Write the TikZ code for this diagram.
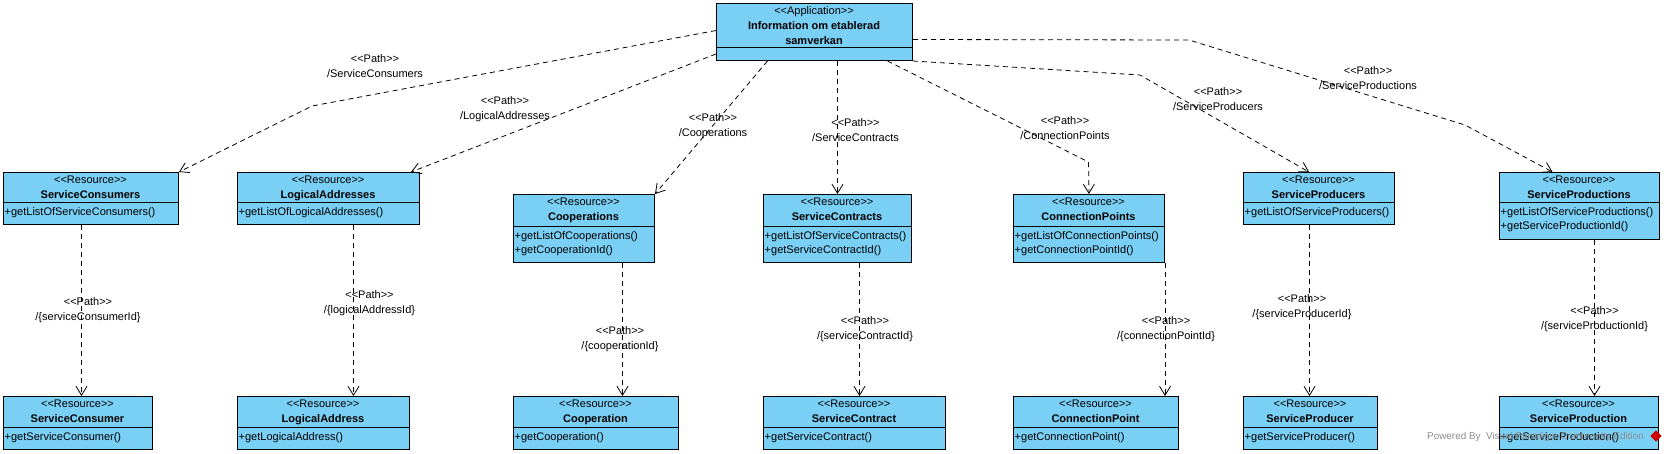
\documentclass[tikz,border=0pt]{standalone}
\usepackage{fontspec}
\setmainfont{Liberation Sans}
\usetikzlibrary{arrows.meta,calc}
\definecolor{clsfill}{RGB}{122,207,245}
\definecolor{wmgray}{RGB}{140,140,140}
\newcommand\stereo[1]{<\kern0pt<#1>\kern0pt>}
\tikzset{
  clsbox/.style={draw=black, fill=clsfill, line width=1pt, inner sep=0pt, anchor=north west},
  sepline/.style={draw=black, line width=1pt},
  txt/.style={inner sep=0pt, font=\fontsize{11}{14}\selectfont},
  ttl/.style={inner sep=0pt, font=\fontsize{11}{14}\selectfont\bfseries},
  mth/.style={inner sep=0pt, align=left, anchor=north west, font=\fontsize{11}{14}\selectfont},
  lbl/.style={inner sep=0pt, align=center, font=\fontsize{11}{15}\selectfont},
  dep/.style={draw=black, line width=0.8pt, dash pattern=on 5pt off 4pt,
    -{Straight Barb[length=9pt,width=11pt,line width=0.8pt]}},
}
% name x1 y1 x2 y2 ysep title methods
\newcommand\rescls[8]{%
  \node[clsbox, minimum width={(#4-#2)*1pt}, minimum height={(#5-#3)*1pt}] (#1) at (#2,#3) {};
  \draw[sepline] (#2,#6) -- (#4,#6);
  \node[txt, anchor=base] (#1-st) at ({(#2+#4)/2},{#3+11.5}) {\stereo{Resource}};
  \node[ttl, anchor=base] (#1-ti) at ({(#2+#4)/2},{#3+26}) {#7};
  \node[mth] (#1-me) at ({#2+1.5},{#6+5.5}) {#8};
}
\begin{document}
\begin{tikzpicture}[x=1pt,y=-1pt]
\useasboundingbox (0,0) rectangle (1667,453);
\fill[white] (0,0) rectangle (1667,453);

% application
\node[clsbox, minimum width=196pt, minimum height=57pt] (app) at (716,3) {};
\draw[sepline] (716,47) -- (912,47);
\node[txt, anchor=base] (app-st) at (814,14) {\stereo{Application}};
\node[ttl, anchor=base] (app-t1) at (814,29) {Information om etablerad};
\node[ttl, anchor=base] (app-t2) at (814,44) {samverkan};

% top row
\rescls{sc}{3}{172}{178}{224}{202}{ServiceConsumers}{+getListOfServiceConsumers()}
\rescls{la}{237}{172}{419}{224}{202}{LogicalAddresses}{+getListOfLogicalAddresses()}
\rescls{co}{513}{194}{654}{262}{226}{Cooperations}{+getListOfCooperations()\\+getCooperationId()}
\rescls{sct}{763}{194}{911}{262}{226}{ServiceContracts}{+getListOfServiceContracts()\\+getServiceContractId()}
\rescls{cp}{1013}{194}{1164}{262}{226}{ConnectionPoints}{+getListOfConnectionPoints()\\+getConnectionPointId()}
\rescls{spr}{1243}{172}{1394}{224}{202}{ServiceProducers}{+getListOfServiceProducers()}
\rescls{spn}{1499}{172}{1659}{239}{202}{ServiceProductions}{+getListOfServiceProductions()\\+getServiceProductionId()}

% bottom row
\rescls{scb}{3}{396}{152}{449}{427}{ServiceConsumer}{+getServiceConsumer()}
\rescls{lab}{237}{396}{409}{449}{427}{LogicalAddress}{+getLogicalAddress()}
\rescls{cob}{513}{396}{678}{449}{427}{Cooperation}{+getCooperation()}
\rescls{sctb}{763}{396}{945}{449}{427}{ServiceContract}{+getServiceContract()}
\rescls{cpb}{1013}{396}{1178}{449}{427}{ConnectionPoint}{+getConnectionPoint()}
\rescls{sprb}{1243}{396}{1377}{449}{427}{ServiceProducer}{+getServiceProducer()}
\rescls{spnb}{1499}{396}{1658}{449}{427}{ServiceProduction}{+getServiceProduction()}

% bend points
\coordinate (b1) at (312,106);
\coordinate (b5) at (1088.5,162);
\coordinate (b6) at (1140,75);
\coordinate (b7a) at (1189,40);
\coordinate (b7b) at (1465,125);

% connectors from application
\draw[dep] ([yshift=1.5pt]app.west) -- (b1) -- (sc.north east);
\draw[dep] ([yshift=7pt]app.south west) -- ([xshift=-9pt]la.north east);
\draw[dep] ([xshift=-47pt]app.south) -- (co.north east);
\draw[dep] (app.south -| sct.north) -- (sct.north);
\draw[dep] ([xshift=73pt]app.south) -- (b5) -- (cp.north);
\draw[dep] (app.south east) -- (b6) -- ([xshift=-10pt]spr.north);
\draw[dep] ([yshift=-7.5pt]app.east) -- (b7a) -- (b7b) -- ([xshift=-27pt]spn.north);

% vertical connectors
\draw[dep] ([xshift=-9.5pt]sc.south) -- ([xshift=-9.5pt]sc.south |- scb.north);
\draw[dep] ([xshift=25pt]la.south) -- ([xshift=25pt]la.south |- lab.north);
\draw[dep] ([xshift=38.5pt]co.south) -- ([xshift=38.5pt]co.south |- cob.north);
\draw[dep] ([xshift=22pt]sct.south) -- ([xshift=22pt]sct.south |- sctb.north);
\draw[dep] (cp.south east) -- (cp.south east |- cpb.north);
\draw[dep] ([xshift=-9.5pt]spr.south) -- ([xshift=-9.5pt]spr.south |- sprb.north);
\draw[dep] ([xshift=15pt]spn.south) -- ([xshift=15pt]spn.south |- spnb.north);

% labels
\node[lbl] (l1) at (375,66.5) {\stereo{Path}\\/ServiceConsumers};
\node[lbl] (l2) at (505,109) {\stereo{Path}\\/LogicalAddresses};
\node[lbl] (l3) at (713,126.5) {\stereo{Path}\\/Cooperations};
\node[lbl] (l4) at (855.5,130) {\stereo{Path}\\/ServiceContracts};
\node[lbl] (l5) at (1065,128.5) {\stereo{Path}\\/ConnectionPoints};
\node[lbl] (l6) at (1218,99.5) {\stereo{Path}\\/ServiceProducers};
\node[lbl] (l7) at (1368,78) {\stereo{Path}\\/ServiceProductions};
\node[lbl] (m1) at (88,310.5) {\stereo{Path}\\/\{serviceConsumerId\}};
\node[lbl] (m2) at (369.5,303) {\stereo{Path}\\/\{logicalAddressId\}};
\node[lbl] (m3) at (620,339.5) {\stereo{Path}\\/\{cooperationId\}};
\node[lbl] (m4) at (865,329) {\stereo{Path}\\/\{serviceContractId\}};
\node[lbl] (m5) at (1166,329.5) {\stereo{Path}\\/\{connectionPointId\}};
\node[lbl] (m6) at (1302,307.5) {\stereo{Path}\\/\{serviceProducerId\}};
\node[lbl] (m7) at (1594.5,319) {\stereo{Path}\\/\{serviceProductionId\}};

% watermark
\node[anchor=base west, inner sep=0pt, text=wmgray, font=\fontsize{9.9}{12}\selectfont] (wm) at (1427,439.5) {Powered By\ \ Visual Paradigm Community Edition};
\node[fill=red!80!black, rotate=45, minimum size=8pt, inner sep=0pt] (wmi) at (1656,436) {};
\end{tikzpicture}
\end{document}
